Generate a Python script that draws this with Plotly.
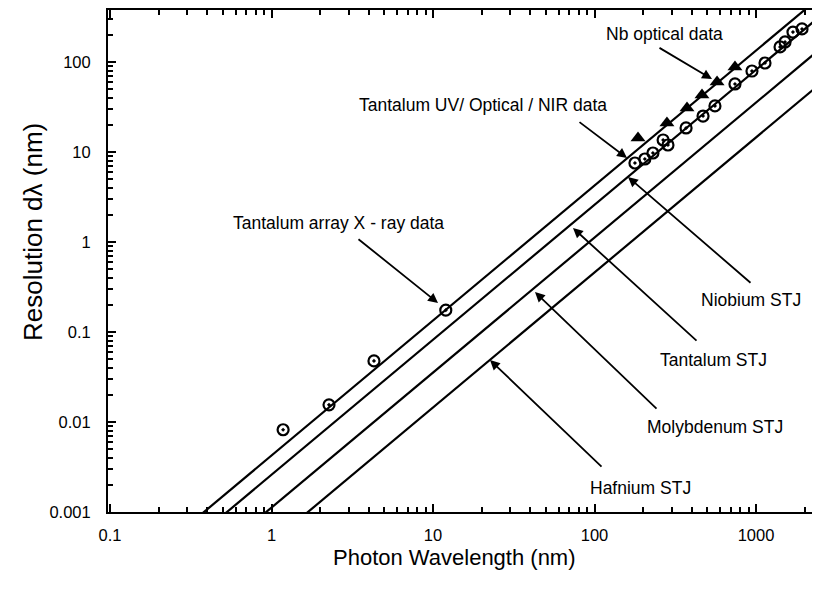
import plotly.graph_objects as go

# ---------------- data ----------------
stj_wavelength = [0.1, 3000]
niobium_stj = [0.000134, 697]
tantalum_stj = [0.0000819, 425.6]
molybdenum_stj = [0.0000354, 184]
hafnium_stj = [0.0000145, 75.4]

xray_wavelength = [1.18, 2.27, 4.31, 12.0]
xray_resolution = [0.0082, 0.0155, 0.0477, 0.175]

ta_optical_wavelength = [178, 205, 230, 266, 285, 369, 470, 557, 741, 944, 1137, 1409, 1513, 1694, 1927]
ta_optical_resolution = [7.55, 8.36, 9.75, 13.6, 11.96, 18.5, 25.1, 32.5, 57, 79.4, 97.5, 147, 167, 215, 233]

nb_optical_wavelength = [186, 281, 374, 463, 574, 741]
nb_optical_resolution = [14.3, 21, 30.8, 43, 60, 88]

x_major = [0.1, 1, 10, 100, 1000]
x_major_text = ["0.1", "1", "10", "100", "1000"]
y_major = [0.001, 0.01, 0.1, 1, 10, 100]
y_major_text = ["0.001", "0.01", "0.1", "1", "10", "100"]

# ---------------- layout geometry ----------------
# page body has an 8px default margin, so the figure is shifted by 8px
OFF = 8
W, H = 820 - OFF, 590 - 2 * OFF - 2
PLOT_L, PLOT_R, PLOT_T, PLOT_B = 108, 820, 10, 512   # in window pixels
L, R, T, B = PLOT_L - OFF, 0, PLOT_T - OFF, H - (PLOT_B - OFF)
PW, PH = PLOT_R - PLOT_L, PLOT_B - PLOT_T
X_RANGE = [-1.01238, 3.3963]
Y_RANGE = [-3, 2.5778]

def px(x):
    return (x - PLOT_L) / PW

def py(y):
    return (PLOT_B - y) / PH

def minors(lo, hi):
    out = []
    d = lo
    while d < hi:
        for m in range(2, 10):
            out.append(d * m)
        d *= 10
    return out

x_minor = minors(0.1, 3000)
y_minor = minors(0.001, 1000)

FONT = "Liberation Sans, Arial, Helvetica, sans-serif"

fig = go.Figure()
for ys in [niobium_stj, tantalum_stj, molybdenum_stj, hafnium_stj]:
    fig.add_trace(go.Scatter(x=stj_wavelength, y=ys, mode="lines",
                             line=dict(color="black", width=2.2), showlegend=False,
                             hoverinfo="skip"))

circle_marker = dict(symbol="circle-open-dot", size=11, color="black",
                     line=dict(color="black", width=2.2))
fig.add_trace(go.Scatter(x=xray_wavelength, y=xray_resolution, mode="markers",
                         marker=circle_marker, showlegend=False))
fig.add_trace(go.Scatter(x=ta_optical_wavelength, y=ta_optical_resolution, mode="markers",
                         marker=circle_marker, showlegend=False))
fig.add_trace(go.Scatter(x=nb_optical_wavelength, y=nb_optical_resolution, mode="markers",
                         marker=dict(symbol="triangle-up", size=13, color="black"),
                         showlegend=False))
# invisible trace to anchor top axis
fig.add_trace(go.Scatter(x=[1], y=[1], xaxis="x2", mode="markers",
                         marker=dict(opacity=0), showlegend=False, hoverinfo="skip"))

axis_common = dict(type="log", showgrid=False, zeroline=False, showline=True,
                   linecolor="black", linewidth=2, ticks="inside", ticklen=8,
                   tickwidth=1.6, tickcolor="black")
minor_common = dict(ticks="inside", ticklen=5, tickwidth=1.6, tickcolor="black", showgrid=False)

fig.update_layout(
    width=W, height=H,
    margin=dict(l=L, r=R, t=T, b=B),
    paper_bgcolor="white", plot_bgcolor="white",
    font=dict(family=FONT, color="black"),
    xaxis=dict(**axis_common, range=X_RANGE, tickvals=x_major, ticktext=x_major_text,
               tickfont=dict(size=16.5, family=FONT), ticklabelstandoff=7,
               minor=dict(tickvals=x_minor, **minor_common)),
    xaxis2=dict(**axis_common, range=X_RANGE, overlaying="x", side="top",
                tickvals=x_major, showticklabels=False,
                minor=dict(tickvals=x_minor, **minor_common)),
    yaxis=dict(**axis_common, range=Y_RANGE, tickvals=y_major, ticktext=y_major_text,
               tickfont=dict(size=16.5, family=FONT), ticklabelstandoff=12,
               minor=dict(tickvals=y_minor, **minor_common)),
)

annotations = []
# axis titles
annotations.append(dict(text="Photon Wavelength (nm)", x=px(454), y=py(557), xref="paper",
                        yref="paper", showarrow=False, font=dict(size=22, family=FONT),
                        xanchor="center", yanchor="middle"))
annotations.append(dict(text="Resolution dλ (nm)", x=px(33), y=py(232), xref="paper",
                        yref="paper", showarrow=False, textangle=-90,
                        font=dict(size=26, family=FONT), xanchor="center", yanchor="middle"))

labels = [
    ("Nb optical data", 664, 34),
    ("Tantalum UV/ Optical / NIR data", 483, 105),
    ("Tantalum array X - ray data", 338, 223),
    ("Niobium STJ", 751, 300),
    ("Tantalum STJ", 713, 360),
    ("Molybdenum STJ", 715, 427),
    ("Hafnium STJ", 640, 488),
]
for text, cx, cy in labels:
    annotations.append(dict(text=text, x=px(cx), y=py(cy), xref="paper", yref="paper",
                            showarrow=False, font=dict(size=17.5, family=FONT),
                            xanchor="center", yanchor="middle"))

arrows = [
    ((658, 47), (712, 79)),
    ((578, 121), (627, 158)),
    ((357, 238), (438, 303)),
    ((752, 284), (628, 177)),
    ((698, 342), (573, 228)),
    ((658, 410), (535, 292)),
    ((603, 468), (490, 360)),
]
for (tx, ty), (hx, hy) in arrows:
    annotations.append(dict(text="", x=px(hx), y=py(hy), xref="paper", yref="paper",
                            showarrow=True, ax=tx - hx, ay=ty - hy, arrowhead=2,
                            arrowsize=1.1, arrowwidth=1.8, arrowcolor="black",
                            standoff=0, startstandoff=0))
fig.update_layout(annotations=annotations)

fig.write_html("out.html")
